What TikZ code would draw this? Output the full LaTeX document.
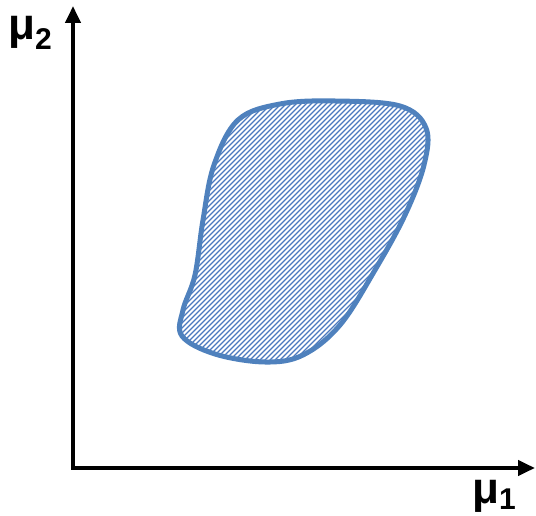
\documentclass[tikz,border=0pt]{standalone}
\usepackage{fontspec}
\setmainfont{Liberation Sans}
\usetikzlibrary{arrows.meta}
\definecolor{blobblue}{HTML}{4F81BD}
\definecolor{hatchblue}{HTML}{4A78BE}
\tikzset{
  axis/.style={line width=4pt,-{Triangle[length=17pt,width=15pt]}},
  lbl/.style={font=\fontsize{44}{46}\selectfont\bfseries,inner sep=0pt,anchor=base west},
  blobline/.style={draw=blobblue,line width=5pt},
  hatchline/.style={draw=hatchblue,line width=1.3pt}
}
\begin{document}
\begin{tikzpicture}[x=1pt,y=-1pt]
\useasboundingbox (0,0) rectangle (536,516);
\coordinate (o) at (73,468);
\coordinate (ytip) at (73,6);
\coordinate (xtip) at (535,468);
\draw[axis] ([yshift=2pt]o) -- (ytip);
\draw[axis] ([xshift=-2pt]o) -- (xtip);
\node[lbl] (mu2) at (8,40) {μ\raisebox{-10pt}{\fontsize{30}{32}\selectfont 2}};
\node[lbl] (mu1) at (472,503) {μ\raisebox{-6pt}{\fontsize{30}{32}\selectfont 1}};
\def\blobpath{plot[smooth cycle,tension=0.6] coordinates {
 (238,120) (280,104) (335,101) (400,106) (426,128) (424,165)
 (405,215) (375,270) (340,325) (303,355) (265,362) (215,354)
 (182,336) (183,310) (195,275) (203,220) (214,165)}}
\begin{scope}
\clip \blobpath;
\foreach \i in {-400,-395,...,400}{
  \draw[hatchline] (150+\i,380) -- (450+\i,80);
}
\end{scope}
\draw[blobline] \blobpath;
\end{tikzpicture}
\end{document}
